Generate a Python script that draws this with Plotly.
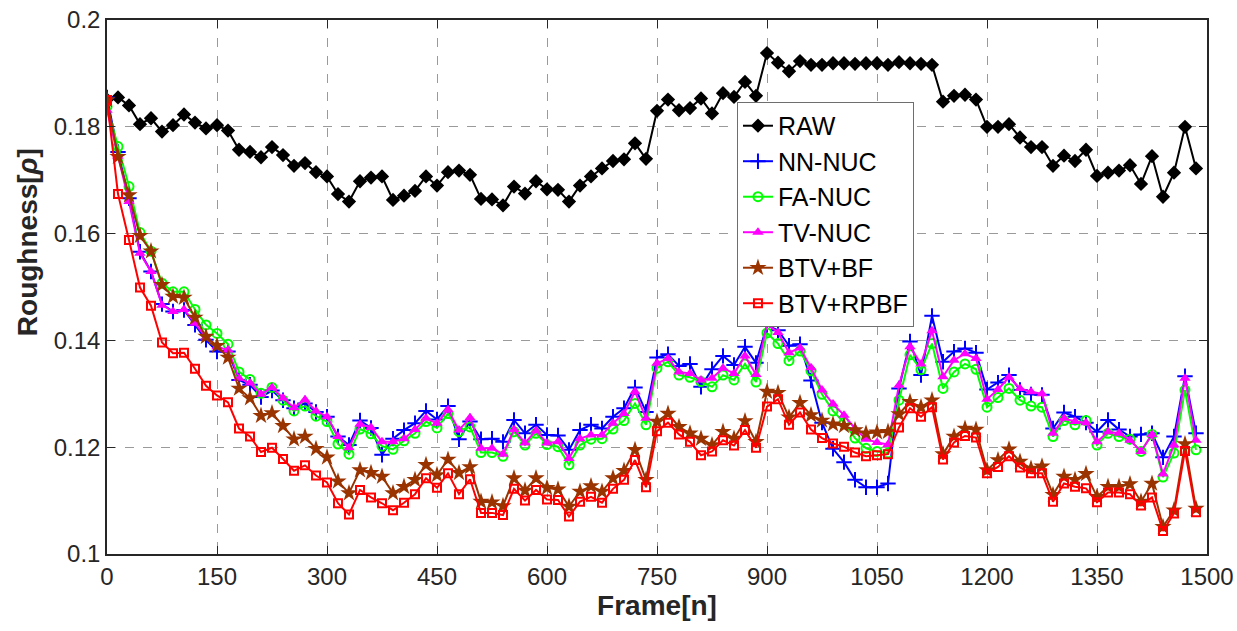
import plotly.graph_objects as go

frames = list(range(0, 1500, 15))

raw = [0.1851, 0.1855, 0.1840, 0.1805, 0.1816, 0.1791, 0.1803, 0.1823, 0.1808, 0.1797,
       0.1803, 0.1793, 0.1757, 0.1753, 0.1743, 0.1762, 0.1747, 0.1727, 0.1732, 0.1715,
       0.1707, 0.1674, 0.1660, 0.1698, 0.1705, 0.1707, 0.1663, 0.1671, 0.1680, 0.1707,
       0.1690, 0.1715, 0.1718, 0.1710, 0.1665, 0.1664, 0.1653, 0.1688, 0.1675, 0.1698,
       0.1683, 0.1682, 0.1660, 0.1690, 0.1707, 0.1722, 0.1736, 0.1739, 0.1769, 0.1740,
       0.1830, 0.1851, 0.1831, 0.1835, 0.1853, 0.1825, 0.1863, 0.1856, 0.1884, 0.1858,
       0.1938, 0.1920, 0.1904, 0.1923, 0.1916, 0.1916, 0.1919, 0.1919, 0.1918, 0.1919,
       0.1919, 0.1916, 0.1921, 0.1919, 0.1918, 0.1916, 0.1847, 0.1858, 0.1860, 0.1851,
       0.1800, 0.1800, 0.1805, 0.1780, 0.1762, 0.1762, 0.1727, 0.1746, 0.1736, 0.1757,
       0.1708, 0.1714, 0.1718, 0.1728, 0.1693, 0.1745, 0.1669, 0.1714, 0.1800, 0.1722]

nn_nuc = [0.1855, 0.1753, 0.1666, 0.1566, 0.1529, 0.1468, 0.1454, 0.1457, 0.1429, 0.1401,
          0.1379, 0.1379, 0.1326, 0.1317, 0.1294, 0.1306, 0.1288, 0.1273, 0.1282, 0.1266,
          0.1257, 0.1220, 0.1204, 0.1250, 0.1236, 0.1186, 0.1216, 0.1232, 0.1245, 0.1268,
          0.1252, 0.1277, 0.1215, 0.1248, 0.1215, 0.1216, 0.1210, 0.1251, 0.1226, 0.1242,
          0.1223, 0.1222, 0.1195, 0.1232, 0.1242, 0.1235, 0.1257, 0.1273, 0.1312, 0.1266,
          0.1368, 0.1374, 0.1352, 0.1356, 0.1313, 0.1346, 0.1371, 0.1354, 0.1388, 0.1358,
          0.1428, 0.1419, 0.1390, 0.1393, 0.1325, 0.1246, 0.1197, 0.1172, 0.1139, 0.1125,
          0.1125, 0.1132, 0.1310, 0.1398, 0.1335, 0.1446, 0.1360, 0.1379, 0.1385, 0.1377,
          0.1308, 0.1321, 0.1335, 0.1307, 0.1299, 0.1298, 0.1235, 0.1265, 0.1257, 0.1246,
          0.1229, 0.1251, 0.1233, 0.1220, 0.1224, 0.1226, 0.1181, 0.1220, 0.1333, 0.1226]

fa_nuc = [0.1838, 0.1763, 0.1688, 0.1602, 0.1567, 0.1507, 0.1491, 0.1491, 0.1458, 0.1429,
          0.1413, 0.1393, 0.1341, 0.1327, 0.1301, 0.1312, 0.1288, 0.1268, 0.1277, 0.1258,
          0.1248, 0.1206, 0.1187, 0.1234, 0.1225, 0.1202, 0.1196, 0.1212, 0.1226, 0.1248,
          0.1236, 0.1263, 0.1229, 0.1238, 0.1190, 0.1190, 0.1183, 0.1229, 0.1204, 0.1226,
          0.1205, 0.1201, 0.1167, 0.1204, 0.1215, 0.1216, 0.1234, 0.1250, 0.1282, 0.1242,
          0.1348, 0.1360, 0.1335, 0.1331, 0.1323, 0.1313, 0.1335, 0.1326, 0.1356, 0.1322,
          0.1414, 0.1394, 0.1362, 0.1380, 0.1343, 0.1299, 0.1268, 0.1246, 0.1217, 0.1198,
          0.1192, 0.1189, 0.1288, 0.1373, 0.1345, 0.1394, 0.1310, 0.1341, 0.1356, 0.1346,
          0.1275, 0.1293, 0.1310, 0.1288, 0.1277, 0.1275, 0.1220, 0.1250, 0.1242, 0.1250,
          0.1204, 0.1226, 0.1220, 0.1215, 0.1192, 0.1224, 0.1144, 0.1189, 0.1307, 0.1195]

tv_nuc = [0.1831, 0.1745, 0.1660, 0.1563, 0.1529, 0.1466, 0.1454, 0.1458, 0.1432, 0.1406,
          0.1388, 0.1382, 0.1329, 0.1320, 0.1299, 0.1312, 0.1292, 0.1274, 0.1289, 0.1268,
          0.1257, 0.1220, 0.1199, 0.1243, 0.1237, 0.1210, 0.1210, 0.1216, 0.1233, 0.1254,
          0.1245, 0.1270, 0.1232, 0.1255, 0.1198, 0.1198, 0.1187, 0.1233, 0.1208, 0.1231,
          0.1208, 0.1210, 0.1179, 0.1216, 0.1223, 0.1223, 0.1245, 0.1263, 0.1304, 0.1254,
          0.1357, 0.1366, 0.1341, 0.1338, 0.1326, 0.1329, 0.1348, 0.1338, 0.1371, 0.1336,
          0.1430, 0.1415, 0.1377, 0.1386, 0.1349, 0.1307, 0.1281, 0.1260, 0.1235, 0.1215,
          0.1209, 0.1205, 0.1316, 0.1388, 0.1356, 0.1418, 0.1332, 0.1363, 0.1375, 0.1366,
          0.1290, 0.1308, 0.1331, 0.1310, 0.1304, 0.1300, 0.1226, 0.1254, 0.1248, 0.1246,
          0.1210, 0.1229, 0.1226, 0.1213, 0.1192, 0.1224, 0.1150, 0.1204, 0.1329, 0.1213]

btv_bf = [0.1850, 0.1744, 0.1672, 0.1596, 0.1567, 0.1504, 0.1482, 0.1480, 0.1443, 0.1407,
          0.1390, 0.1368, 0.1310, 0.1292, 0.1259, 0.1264, 0.1240, 0.1215, 0.1220, 0.1197,
          0.1181, 0.1136, 0.1114, 0.1157, 0.1152, 0.1145, 0.1114, 0.1126, 0.1139, 0.1167,
          0.1148, 0.1177, 0.1152, 0.1163, 0.1098, 0.1097, 0.1090, 0.1142, 0.1119, 0.1142,
          0.1124, 0.1121, 0.1089, 0.1117, 0.1127, 0.1117, 0.1142, 0.1156, 0.1195, 0.1139,
          0.1248, 0.1263, 0.1238, 0.1226, 0.1216, 0.1204, 0.1229, 0.1216, 0.1249, 0.1210,
          0.1304, 0.1302, 0.1256, 0.1283, 0.1260, 0.1250, 0.1243, 0.1240, 0.1232, 0.1226,
          0.1228, 0.1229, 0.1262, 0.1285, 0.1275, 0.1288, 0.1187, 0.1220, 0.1235, 0.1233,
          0.1157, 0.1176, 0.1196, 0.1173, 0.1160, 0.1164, 0.1111, 0.1145, 0.1139, 0.1150,
          0.1107, 0.1126, 0.1126, 0.1131, 0.1098, 0.1132, 0.1051, 0.1082, 0.1206, 0.1085]

btv_rpbf = [0.1850, 0.1674, 0.1588, 0.1499, 0.1465, 0.1396, 0.1376, 0.1377, 0.1347, 0.1315,
            0.1297, 0.1284, 0.1235, 0.1220, 0.1191, 0.1199, 0.1178, 0.1156, 0.1166, 0.1147,
            0.1134, 0.1095, 0.1074, 0.1120, 0.1106, 0.1095, 0.1082, 0.1096, 0.1112, 0.1142,
            0.1124, 0.1151, 0.1112, 0.1140, 0.1077, 0.1077, 0.1073, 0.1122, 0.1100, 0.1120,
            0.1102, 0.1101, 0.1070, 0.1098, 0.1107, 0.1096, 0.1122, 0.1139, 0.1176, 0.1125,
            0.1230, 0.1246, 0.1224, 0.1210, 0.1185, 0.1192, 0.1213, 0.1203, 0.1232, 0.1199,
            0.1276, 0.1290, 0.1242, 0.1265, 0.1233, 0.1217, 0.1207, 0.1201, 0.1190, 0.1183,
            0.1185, 0.1187, 0.1237, 0.1273, 0.1257, 0.1275, 0.1177, 0.1209, 0.1221, 0.1218,
            0.1151, 0.1163, 0.1183, 0.1162, 0.1151, 0.1151, 0.1098, 0.1132, 0.1126, 0.1123,
            0.1097, 0.1115, 0.1115, 0.1112, 0.1091, 0.1106, 0.1043, 0.1076, 0.1193, 0.1078]

x_ticks = [0, 150, 300, 450, 600, 750, 900, 1050, 1200, 1350, 1500]
y_ticks = [0.1, 0.12, 0.14, 0.16, 0.18, 0.2]
y_tick_labels = ["0.1", "0.12", "0.14", "0.16", "0.18", "0.2"]

series = [
    ("RAW", raw, "#000000", dict(symbol="diamond", size=11, color="#000000")),
    ("NN-NUC", nn_nuc, "#0000FF", dict(symbol="cross-thin-open", size=11, color="#0000FF",
                                       line=dict(width=2, color="#0000FF"))),
    ("FA-NUC", fa_nuc, "#00FF00", dict(symbol="circle-open", size=9, color="#00FF00",
                                       line=dict(width=2, color="#00FF00"))),
    ("TV-NUC", tv_nuc, "#FF00FF", dict(symbol="triangle-up", size=10, color="#FF00FF")),
    ("BTV+BF", btv_bf, "#993300", dict(symbol="star", size=13, color="#993300")),
    ("BTV+RPBF", btv_rpbf, "#FF0000", dict(symbol="square-open", size=8, color="#FF0000",
                                          line=dict(width=2, color="#FF0000"))),
]

fig = go.Figure()
for name, vals, col, mk in series:
    fig.add_trace(go.Scatter(x=frames, y=vals, name=name, mode="lines+markers",
                             line=dict(color=col, width=2), marker=mk))

FONT = "Liberation Sans, Arial, sans-serif"
axis_font = dict(family=FONT, size=24, color="#262626")
fig.update_layout(
    width=1237, height=631,
    margin=dict(l=107, r=30, t=20, b=77),
    paper_bgcolor="white", plot_bgcolor="white",
    font=dict(family=FONT, color="#262626"),
    xaxis=dict(range=[0, 1500], tickvals=x_ticks, ticktext=[str(v) for v in x_ticks],
               automargin=False,
               showgrid=True, gridcolor="#9a9a9a", griddash="dash", gridwidth=1,
               showline=True, linecolor="#262626", linewidth=1.5, mirror="allticks",
               ticks="inside", ticklen=8, tickcolor="#262626", tickfont=axis_font,
               zeroline=False,
               title=dict(text="<b>Frame[n]</b>", font=dict(size=28, family=FONT, color="#262626"), standoff=2)),
    yaxis=dict(range=[0.1, 0.2], tickvals=y_ticks, ticktext=y_tick_labels,
               automargin=False,
               showgrid=True, gridcolor="#9a9a9a", griddash="dash", gridwidth=1,
               showline=True, linecolor="#262626", linewidth=1.5, mirror="allticks",
               ticks="inside", ticklen=8, tickcolor="#262626", tickfont=axis_font,
               zeroline=False),
    legend=dict(x=0.5727, y=0.8465, xanchor="left", yanchor="top",
                bgcolor="white", bordercolor="#6e6e6e", borderwidth=1,
                font=dict(size=25, family=FONT, color="#000000"),
                itemwidth=30, tracegroupgap=0),
    showlegend=True,
)

fig.add_annotation(text="<b>Roughness[<i>ρ</i>]</b>", textangle=-90, showarrow=False,
                   xref="paper", yref="paper", x=-0.0727, y=0.584,
                   xanchor="center", yanchor="middle",
                   font=dict(size=28, family=FONT, color="#262626"))

fig.write_html("out.html")
